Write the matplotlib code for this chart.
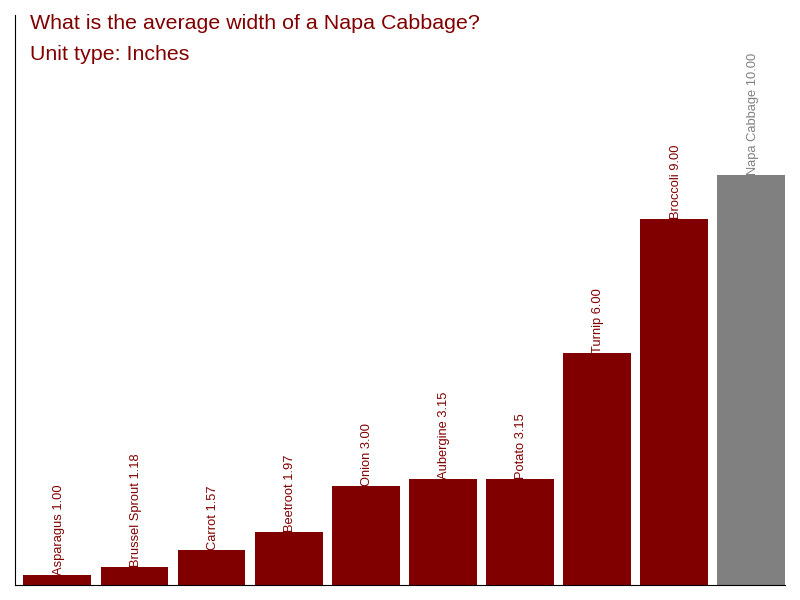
import matplotlib
matplotlib.use("Agg")
import matplotlib.pyplot as plt
import numpy as np

plt.rcParams['font.family'] = ['Liberation Sans', 'DejaVu Sans']

# data
names = ["Asparagus", "Brussel Sprout", "Carrot", "Beetroot", "Onion",
         "Aubergine", "Potato", "Turnip", "Broccoli", "Napa Cabbage"]
widths = [1.00, 1.18, 1.57, 1.97, 3.00, 3.15, 3.15, 6.00, 9.00, 10.00]
highlight = "Napa Cabbage"

red = "#800000"
grey = "#808080"

fig = plt.figure(figsize=(8, 6), dpi=100)
ax = fig.add_axes([15 / 800, 15 / 600, 770 / 800, 570 / 600])

x = np.arange(len(names))
colors = [grey if n == highlight else red for n in names]
ax.bar(x, widths, width=0.88, color=colors)

for xi, n, v, c in zip(x, names, widths, colors):
    ax.text(xi + 0.02, v, f"{n} {v:.2f}", rotation=90, ha="center", va="bottom",
            fontsize=9.3, color=c)

ax.set_xlim(-0.55, 9.44)
ax.set_ylim(0.775, 13.6)
ax.set_xticks([])
ax.set_yticks([])
ax.spines["top"].set_visible(False)
ax.spines["right"].set_visible(False)

fig.text(30 / 800, 1 - 29 / 600, "What is the average width of a Napa Cabbage?",
         fontsize=15.4, color=red, va="baseline")
fig.text(30 / 800, 1 - 60 / 600, "Unit type: Inches",
         fontsize=15.4, color=red, va="baseline")

fig.savefig("out.png", dpi=100)
